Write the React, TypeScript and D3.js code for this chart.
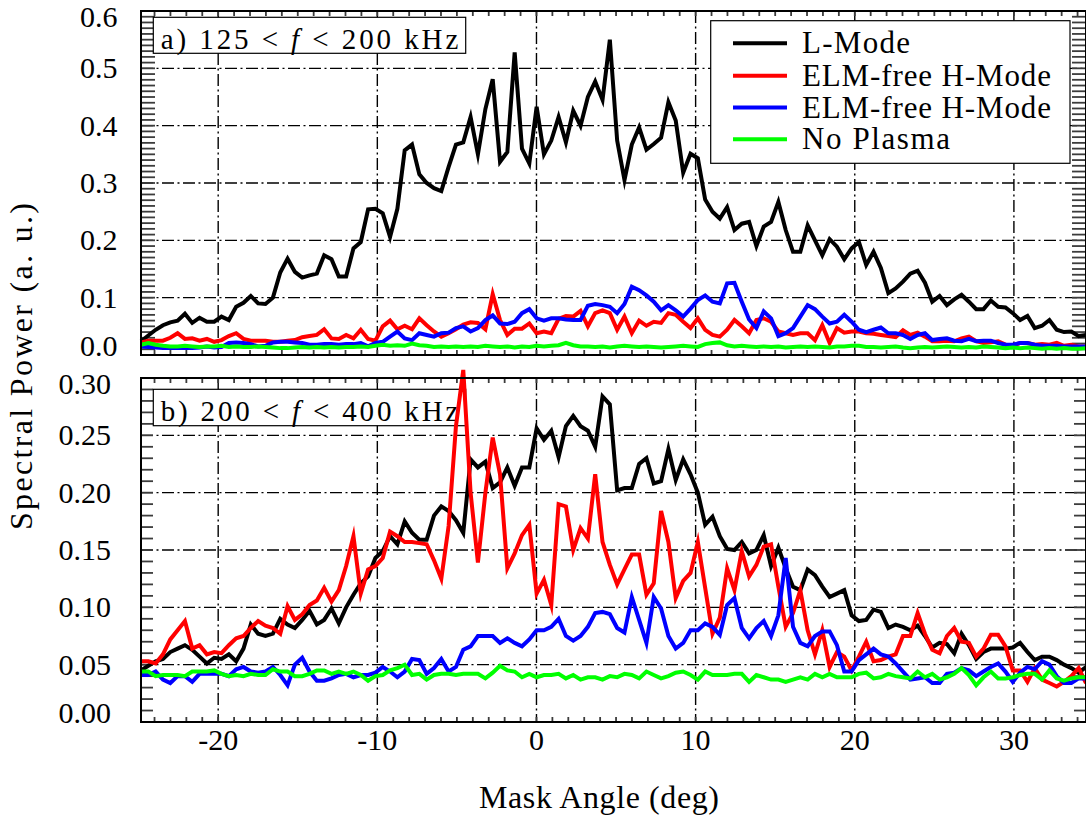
import React from "react";
import * as d3 from "d3";

const WIDTH = 1086;
const HEIGHT = 819;

// Mask angle of every sample (deg)
const maskAngle = [
  -24.85, -24.39, -23.93, -23.47, -23.01, -22.55, -22.09, -21.63, -21.17, -20.71,
  -20.25, -19.79, -19.33, -18.87, -18.41, -17.95, -17.49, -17.03, -16.56, -16.1,
  -15.64, -15.18, -14.72, -14.26, -13.8, -13.34, -12.88, -12.42, -11.96, -11.5,
  -11.04, -10.58, -10.12, -9.66, -9.2, -8.74, -8.28, -7.82, -7.36, -6.9,
  -6.44, -5.98, -5.52, -5.06, -4.6, -4.14, -3.68, -3.21, -2.75, -2.29,
  -1.83, -1.37, -0.91, -0.45, 0.01, 0.47, 0.93, 1.39, 1.85, 2.31,
  2.77, 3.23, 3.69, 4.15, 4.61, 5.07, 5.53, 5.99, 6.45, 6.91,
  7.37, 7.83, 8.29, 8.75, 9.22, 9.68, 10.14, 10.6, 11.06, 11.52,
  11.98, 12.44, 12.9, 13.36, 13.82, 14.28, 14.74, 15.2, 15.66, 16.12,
  16.58, 17.04, 17.5, 17.96, 18.42, 18.88, 19.34, 19.8, 20.26, 20.72,
  21.18, 21.64, 22.11, 22.57, 23.03, 23.49, 23.95, 24.41, 24.87, 25.33,
  25.79, 26.25, 26.71, 27.17, 27.63, 28.09, 28.55, 29.01, 29.47, 29.93,
  30.39, 30.85, 31.31, 31.77, 32.23, 32.69, 33.15, 33.61, 34.07, 34.53,
];

// Panel a: 125 < f < 200 kHz
const aLMode = [
  0.024, 0.034, 0.044, 0.052, 0.057, 0.06, 0.072, 0.056, 0.065, 0.058,
  0.058, 0.067, 0.061, 0.084, 0.091, 0.103, 0.09, 0.089, 0.1, 0.144,
  0.168, 0.145, 0.135, 0.139, 0.142, 0.174, 0.167, 0.137, 0.137, 0.186,
  0.197, 0.254, 0.255, 0.247, 0.206, 0.255, 0.357, 0.367, 0.315, 0.3,
  0.291, 0.286, 0.328, 0.367,
  0.371, 0.415, 0.35, 0.429, 0.481, 0.337, 0.354, 0.528, 0.36, 0.334,
  0.433, 0.35, 0.374, 0.415, 0.371, 0.426, 0.4, 0.45, 0.477, 0.445,
  0.55, 0.374, 0.305, 0.367, 0.397, 0.358, 0.368, 0.379, 0.441, 0.409,
  0.318, 0.351, 0.343, 0.271, 0.25, 0.238, 0.258, 0.218, 0.229, 0.232,
  0.19, 0.224,
  0.232, 0.267, 0.218, 0.18, 0.18, 0.226, 0.2, 0.174, 0.202, 0.189,
  0.167, 0.186, 0.197, 0.157, 0.18, 0.152, 0.108, 0.116, 0.128, 0.142,
  0.147, 0.126, 0.093, 0.103, 0.087, 0.097, 0.105, 0.093, 0.08, 0.08,
  0.095, 0.084, 0.083, 0.073, 0.061, 0.068, 0.047, 0.051, 0.061, 0.044,
  0.04, 0.041, 0.033, 0.035,
];
const aElmRed = [
  0.022, 0.025, 0.025, 0.025, 0.03, 0.038, 0.028, 0.029, 0.025, 0.028,
  0.023, 0.026, 0.033, 0.038, 0.028, 0.025, 0.025, 0.025, 0.023, 0.023,
  0.025, 0.026, 0.031, 0.033, 0.035, 0.045, 0.029, 0.028, 0.035, 0.029,
  0.044, 0.028, 0.025, 0.05, 0.06, 0.045, 0.051, 0.045, 0.064, 0.052,
  0.041, 0.032, 0.038, 0.045,
  0.053, 0.057, 0.056, 0.045, 0.106, 0.061, 0.035, 0.046, 0.046, 0.055,
  0.038, 0.041, 0.038, 0.063, 0.068, 0.067, 0.077, 0.05, 0.073, 0.078,
  0.073, 0.044, 0.067, 0.038, 0.06, 0.051, 0.058, 0.056, 0.073, 0.07,
  0.058, 0.047, 0.064, 0.044, 0.035, 0.032, 0.044, 0.061, 0.05, 0.038,
  0.061, 0.064,
  0.058, 0.041, 0.038, 0.035, 0.038, 0.038, 0.026, 0.052, 0.021, 0.047,
  0.039, 0.041, 0.041, 0.038, 0.037, 0.035, 0.033, 0.031, 0.043, 0.035,
  0.039, 0.032, 0.024, 0.024, 0.025, 0.024, 0.029, 0.032, 0.024, 0.021,
  0.022, 0.024, 0.018, 0.016, 0.021, 0.021, 0.018, 0.019, 0.018, 0.021,
  0.016, 0.018, 0.015, 0.015,
];
const aElmBlue = [
  0.015, 0.014, 0.013, 0.012, 0.012, 0.012, 0.012, 0.012, 0.013, 0.015,
  0.013, 0.014, 0.021, 0.022, 0.021, 0.019, 0.015, 0.016, 0.022, 0.023,
  0.023, 0.022, 0.021, 0.018, 0.018, 0.019, 0.019, 0.018, 0.019, 0.019,
  0.021, 0.015, 0.021, 0.023, 0.032, 0.041, 0.029, 0.026, 0.038, 0.035,
  0.032, 0.038, 0.039, 0.047,
  0.05, 0.041, 0.047, 0.061, 0.069, 0.055, 0.054, 0.058, 0.073, 0.08,
  0.064, 0.06, 0.064, 0.064, 0.062, 0.061, 0.061, 0.086, 0.089, 0.087,
  0.084, 0.073, 0.089, 0.119, 0.113, 0.104, 0.093, 0.078, 0.087, 0.078,
  0.067, 0.081, 0.096, 0.104, 0.093, 0.09, 0.125, 0.126, 0.093, 0.062,
  0.047, 0.076,
  0.064, 0.033, 0.038, 0.047, 0.067, 0.087, 0.08, 0.067, 0.055, 0.058,
  0.07, 0.058, 0.044, 0.04, 0.044, 0.048, 0.038, 0.038, 0.035, 0.028,
  0.035, 0.038, 0.026, 0.028, 0.029, 0.025, 0.024, 0.028, 0.024, 0.025,
  0.025, 0.021, 0.018, 0.018, 0.021, 0.021, 0.018, 0.016, 0.016, 0.016,
  0.015, 0.015, 0.015, 0.015,
];
const aNoPlasma = [
  0.018, 0.021, 0.018, 0.016, 0.015, 0.015, 0.016, 0.015, 0.014, 0.015,
  0.015, 0.016, 0.014, 0.015, 0.014, 0.014, 0.015, 0.014, 0.013, 0.012,
  0.012, 0.013, 0.014, 0.013, 0.014, 0.013, 0.014, 0.013, 0.014, 0.014,
  0.015, 0.014, 0.016, 0.018, 0.016, 0.017, 0.016, 0.02, 0.017, 0.016,
  0.014, 0.015, 0.014, 0.015,
  0.014, 0.015, 0.014, 0.016, 0.015, 0.014, 0.015, 0.013, 0.015, 0.014,
  0.016, 0.015, 0.016, 0.017, 0.021, 0.017, 0.015, 0.015, 0.014, 0.015,
  0.013, 0.015, 0.016, 0.015, 0.014, 0.015, 0.014, 0.013, 0.014, 0.015,
  0.016, 0.015, 0.014, 0.019, 0.021, 0.022, 0.017, 0.015, 0.016, 0.015,
  0.014, 0.015,
  0.014, 0.015, 0.013, 0.014, 0.015, 0.014, 0.015, 0.014, 0.013, 0.015,
  0.015, 0.016, 0.016, 0.014, 0.014, 0.013, 0.014, 0.015, 0.013, 0.012,
  0.013, 0.014, 0.013, 0.014, 0.015, 0.014, 0.013, 0.014, 0.013, 0.015,
  0.014, 0.013, 0.012, 0.013, 0.012, 0.013, 0.012, 0.011, 0.012, 0.011,
  0.012, 0.011, 0.011, 0.012,
];

// Panel b: 200 < f < 400 kHz
const bLMode = [
  0.045, 0.049, 0.053, 0.055, 0.061, 0.064, 0.067, 0.063, 0.057, 0.051,
  0.056, 0.055, 0.059, 0.053, 0.064, 0.085, 0.077, 0.075, 0.077, 0.09,
  0.085, 0.082, 0.089, 0.097, 0.085, 0.089, 0.099, 0.086, 0.1, 0.111,
  0.121, 0.127, 0.143, 0.149, 0.162, 0.155, 0.175, 0.165, 0.159, 0.159,
  0.18, 0.188, 0.184, 0.176,
  0.165, 0.229, 0.222, 0.227, 0.204, 0.209, 0.222, 0.206, 0.222, 0.222,
  0.256, 0.246, 0.254, 0.231, 0.258, 0.267, 0.258, 0.254, 0.24, 0.284,
  0.277, 0.202, 0.204, 0.204, 0.225, 0.23, 0.208, 0.21, 0.238, 0.211,
  0.229, 0.216, 0.2, 0.172, 0.179, 0.162, 0.151, 0.15, 0.157, 0.147,
  0.15, 0.163,
  0.136, 0.152, 0.134, 0.118, 0.115, 0.133, 0.128, 0.118, 0.109, 0.112,
  0.115, 0.093, 0.088, 0.089, 0.098, 0.096, 0.082, 0.085, 0.083, 0.08,
  0.084, 0.075, 0.065, 0.069, 0.068, 0.06, 0.077, 0.067, 0.055, 0.061,
  0.064, 0.064, 0.064, 0.065, 0.069, 0.061, 0.054, 0.057, 0.057, 0.054,
  0.05, 0.047, 0.043, 0.048,
];
const bElmRed = [
  0.053, 0.053, 0.051, 0.059, 0.072, 0.08, 0.088, 0.064, 0.067, 0.059,
  0.061, 0.06, 0.067, 0.073, 0.075, 0.082, 0.088, 0.084, 0.082, 0.077,
  0.101, 0.089, 0.094, 0.102, 0.106, 0.117, 0.105, 0.115, 0.136, 0.162,
  0.112, 0.133, 0.136, 0.143, 0.166, 0.162, 0.157, 0.157, 0.156, 0.155,
  0.141, 0.125, 0.171, 0.258,
  0.307, 0.2, 0.139, 0.2, 0.248, 0.216, 0.134, 0.147, 0.163, 0.172,
  0.112, 0.124, 0.102, 0.19, 0.188, 0.15, 0.169, 0.16, 0.216, 0.157,
  0.137, 0.12, 0.133, 0.146, 0.146, 0.111, 0.121, 0.184, 0.157, 0.108,
  0.123, 0.13, 0.157, 0.117, 0.077, 0.091, 0.134, 0.115, 0.149, 0.127,
  0.137, 0.153,
  0.155, 0.118, 0.083, 0.095, 0.115, 0.08, 0.059, 0.08, 0.048, 0.061,
  0.057, 0.045, 0.057, 0.07, 0.053, 0.054, 0.057, 0.059, 0.075, 0.075,
  0.095, 0.077, 0.063, 0.06, 0.075, 0.082, 0.07, 0.069, 0.057, 0.064,
  0.076, 0.076, 0.066, 0.045, 0.045, 0.035, 0.047, 0.037, 0.034, 0.031,
  0.035, 0.04, 0.047, 0.034,
];
const bElmBlue = [
  0.041, 0.041, 0.044, 0.037, 0.034, 0.04, 0.04, 0.035, 0.042, 0.042,
  0.042, 0.042, 0.04, 0.046, 0.048, 0.044, 0.043, 0.044, 0.048, 0.041,
  0.032, 0.05, 0.056, 0.044, 0.036, 0.036, 0.038, 0.041, 0.042, 0.039,
  0.041, 0.041, 0.043, 0.048, 0.044, 0.039, 0.044, 0.055, 0.054, 0.042,
  0.047, 0.055, 0.044, 0.048,
  0.063, 0.066, 0.075, 0.075, 0.075, 0.069, 0.073, 0.069, 0.066, 0.072,
  0.08, 0.08, 0.083, 0.09, 0.075, 0.071, 0.075, 0.083, 0.095, 0.096,
  0.094, 0.082, 0.078, 0.109, 0.089, 0.069, 0.109, 0.099, 0.075, 0.064,
  0.069, 0.08, 0.08, 0.086, 0.083, 0.076, 0.102, 0.108, 0.082, 0.073,
  0.082, 0.088,
  0.075, 0.093, 0.143, 0.083, 0.069, 0.066, 0.075, 0.079, 0.079, 0.067,
  0.044, 0.044, 0.054, 0.059, 0.064, 0.059, 0.057, 0.051, 0.044, 0.037,
  0.038, 0.039, 0.034, 0.034, 0.042, 0.043, 0.047, 0.045, 0.04, 0.044,
  0.048, 0.051, 0.044, 0.035, 0.043, 0.048, 0.046, 0.053, 0.05, 0.04,
  0.034, 0.034, 0.038, 0.038,
];
const bNoPlasma = [
  0.044, 0.044, 0.04, 0.041, 0.041, 0.041, 0.04, 0.044, 0.044, 0.044,
  0.045, 0.042, 0.04, 0.041, 0.04, 0.042, 0.041, 0.041, 0.046, 0.044,
  0.044, 0.04, 0.04, 0.042, 0.045, 0.045, 0.042, 0.044, 0.042, 0.044,
  0.041, 0.036, 0.04, 0.041, 0.045, 0.047, 0.05, 0.041, 0.042, 0.037,
  0.041, 0.042, 0.042, 0.041,
  0.042, 0.042, 0.042, 0.038, 0.043, 0.049, 0.045, 0.044, 0.039, 0.042,
  0.039, 0.041, 0.041, 0.042, 0.038, 0.041, 0.037, 0.039, 0.039, 0.037,
  0.04, 0.039, 0.042, 0.041, 0.038, 0.044, 0.041, 0.038, 0.04, 0.043,
  0.044, 0.041, 0.037, 0.044, 0.041, 0.041, 0.041, 0.042, 0.042, 0.035,
  0.041, 0.039,
  0.037, 0.037, 0.035, 0.037, 0.039, 0.037, 0.042, 0.039, 0.042, 0.039,
  0.039, 0.039, 0.042, 0.043, 0.038, 0.039, 0.042, 0.04, 0.039, 0.038,
  0.044, 0.039, 0.042, 0.037, 0.039, 0.042, 0.047, 0.041, 0.032, 0.039,
  0.044, 0.038, 0.038, 0.039, 0.041, 0.042, 0.042, 0.037, 0.045, 0.038,
  0.036, 0.038, 0.039, 0.039,
];

const legendLabels = ["L-Mode", "ELM-free H-Mode", "ELM-free H-Mode", "No Plasma"];
const lineColors = ["#000000", "#ff0000", "#0000ff", "#00ff00"];
const xMajorTicks = [-20, -10, 0, 10, 20, 30];
const aYTicks = [0, 0.1, 0.2, 0.3, 0.4, 0.5, 0.6];
const bYTicks = [0, 0.05, 0.1, 0.15, 0.2, 0.25, 0.3];

const FONT = '"Liberation Serif"';
const PLOT_LEFT = 141;
const PLOT_RIGHT = 1086;
const GRID_DASH = "12,3.5,2,3.5";
const TICK_COLOR = "#3c3c3c";
const txt = (size: number): React.CSSProperties => ({ fontFamily: FONT, fontSize: `${size}px` });

const x = d3.scaleLinear().domain([-24.85, 34.53]).range([PLOT_LEFT, PLOT_RIGHT]);

type PanelProps = {
  top: number;
  bottom: number;
  yMax: number;
  yTicks: number[];
  fmt: (v: number) => string;
  labelRight: number;
  yTickLen: number;
  series: number[][];
  tagPrefix: string;
  tagRange: [string, string];
  tagBox: { y: number; h: number; baseline: number };
};

function Panel(p: PanelProps) {
  const y = d3.scaleLinear().domain([0, p.yMax]).range([p.bottom, p.top]);
  const line = d3
    .line<number>()
    .x((_, i) => x(maskAngle[i]))
    .y((d) => y(d));
  const minorY = y.ticks(Math.round(p.yMax / 0.01));
  const minorX = x.ticks(60);
  const gridY = p.yTicks.filter((v) => v > 0 && v < p.yMax - 1e-9);

  const labelBaseline = (v: number) => {
    if (v === 0) return y(v) + 1;
    if (Math.abs(v - p.yMax) < 1e-9) return y(v) + 16;
    return y(v) + 10;
  };

  return (
    <g>
      {/* dash-dot grid */}
      {gridY.map((v) => (
        <line key={`gy${v}`} x1={PLOT_LEFT} x2={PLOT_RIGHT} y1={y(v)} y2={y(v)}
          stroke="#000" strokeWidth={1.4} strokeDasharray={GRID_DASH} />
      ))}
      {xMajorTicks.map((v) => (
        <line key={`gx${v}`} x1={x(v)} x2={x(v)} y1={p.top} y2={p.bottom}
          stroke="#000" strokeWidth={1.4} strokeDasharray={GRID_DASH} />
      ))}

      {/* minor ticks on all four sides */}
      {minorY.map((v) => (
        <g key={`ty${v}`}>
          <line x1={PLOT_LEFT} x2={PLOT_LEFT + p.yTickLen} y1={y(v)} y2={y(v)}
            stroke={TICK_COLOR} strokeWidth={1.8} />
          <line x1={PLOT_RIGHT - p.yTickLen} x2={PLOT_RIGHT} y1={y(v)} y2={y(v)}
            stroke={TICK_COLOR} strokeWidth={1.8} />
        </g>
      ))}
      {minorX.map((v) => (
        <g key={`tx${v}`}>
          <line x1={x(v)} x2={x(v)} y1={p.bottom} y2={p.bottom - 5}
            stroke={TICK_COLOR} strokeWidth={1.8} />
          <line x1={x(v)} x2={x(v)} y1={p.top} y2={p.top + 5}
            stroke={TICK_COLOR} strokeWidth={1.8} />
        </g>
      ))}

      {/* panel tag */}
      <rect x={153.3} y={p.tagBox.y} width={312.4} height={p.tagBox.h}
        fill="#fff" stroke="#000" strokeWidth={1.2} />
      <text x={160.7} y={p.tagBox.baseline} style={txt(29)}
        textLength={297.6} lengthAdjust="spacing">
        {`${p.tagPrefix} ${p.tagRange[0]} < `}
        <tspan style={{ fontStyle: "italic" }}>f</tspan>
        {` < ${p.tagRange[1]} kHz`}
      </text>

      {/* spectra */}
      {p.series.map((s, k) => (
        <path key={`s${k}`} d={line(s) ?? ""} fill="none" stroke={lineColors[k]}
          strokeWidth={4} strokeLinejoin="miter" strokeMiterlimit={6} />
      ))}

      {/* frame */}
      <rect x={PLOT_LEFT} y={p.top} width={PLOT_RIGHT - PLOT_LEFT} height={p.bottom - p.top}
        fill="none" stroke="#000" strokeWidth={2} />

      {/* y tick labels */}
      {p.yTicks.map((v) => (
        <text key={`yl${v}`} x={p.labelRight} y={labelBaseline(v)} textAnchor="end" style={txt(30)}>
          {p.fmt(v)}
        </text>
      ))}
    </g>
  );
}

export default function App() {
  const legendRows = [43.3, 75.8, 107.6, 139.3];
  const legendWidths = [108, 249, 249, 148];
  return (
    <svg width={WIDTH} height={HEIGHT} viewBox={`0 0 ${WIDTH} ${HEIGHT}`}
      style={{ position: "absolute", left: 0, top: 0, background: "#fff" }}>
      <rect x={0} y={0} width={WIDTH} height={HEIGHT} fill="#fff" />

      <Panel top={11} bottom={355} yMax={0.6} yTicks={aYTicks} fmt={d3.format(".1f")}
        labelRight={117.5} yTickLen={14}
        series={[aLMode, aElmRed, aElmBlue, aNoPlasma]}
        tagPrefix="a)" tagRange={["125", "200"]}
        tagBox={{ y: 17.3, h: 36, baseline: 48.5 }} />

      <Panel top={378} bottom={722} yMax={0.3} yTicks={bYTicks} fmt={d3.format(".2f")}
        labelRight={111} yTickLen={12}
        series={[bLMode, bElmRed, bElmBlue, bNoPlasma]}
        tagPrefix="b)" tagRange={["200", "400"]}
        tagBox={{ y: 389.3, h: 36.4, baseline: 420.5 }} />

      {/* legend */}
      <g>
        <rect x={710.7} y={20.7} width={359.3} height={142.6} fill="#fff" stroke="#000" strokeWidth={1.2} />
        {legendLabels.map((lab, k) => (
          <g key={`lg${k}`}>
            <line x1={733} x2={787} y1={legendRows[k]} y2={legendRows[k]}
              stroke={lineColors[k]} strokeWidth={4} />
            <text x={802} y={legendRows[k] + 10} style={txt(31)}
              textLength={legendWidths[k]} lengthAdjust="spacing">
              {lab}
            </text>
          </g>
        ))}
      </g>

      {/* x tick labels */}
      {xMajorTicks.map((v) => (
        <text key={`xl${v}`} x={x(v)} y={750} textAnchor="middle" style={txt(30)}>
          {String(v)}
        </text>
      ))}

      {/* axis titles */}
      <text x={599} y={808} textAnchor="middle" style={txt(32)}
        textLength={240} lengthAdjust="spacing">
        Mask Angle (deg)
      </text>
      <text transform="translate(32, 366.5) rotate(-90)" textAnchor="middle" style={txt(32)}
        textLength={327} lengthAdjust="spacing">
        Spectral Power (a. u.)
      </text>
    </svg>
  );
}
